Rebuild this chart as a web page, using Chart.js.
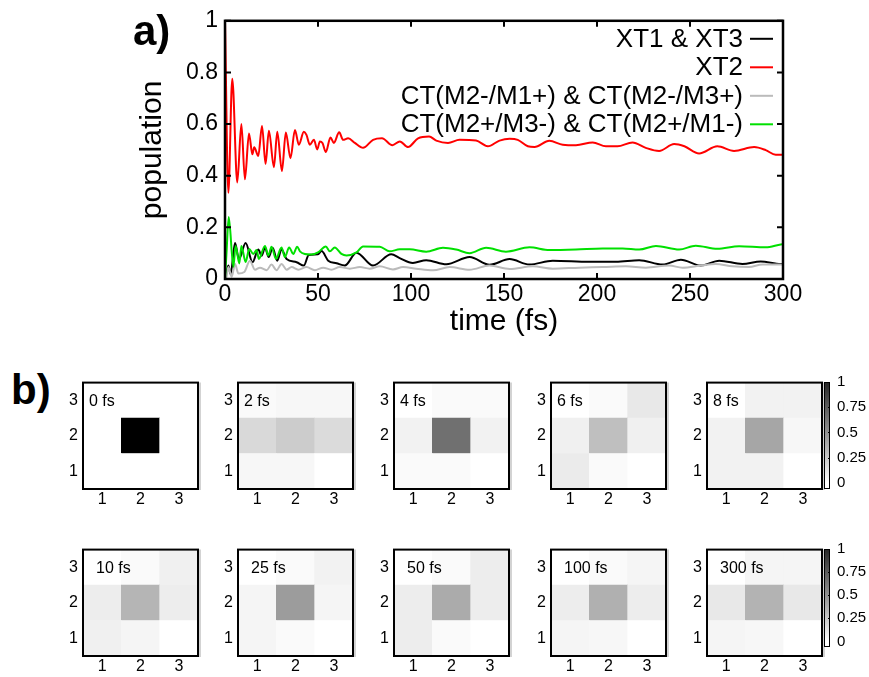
<!DOCTYPE html>
<html>
<head>
<meta charset="utf-8">
<script src="https://cdn.jsdelivr.net/npm/chart.js@4.4.1/dist/chart.umd.min.js"></script>
<style>
  body { margin: 0; background: #fff; }
  #page { position: relative; width: 869px; height: 677px; overflow: hidden; background: #fff; }
  #page canvas { position: absolute; }
  .tag { position: absolute; font-family: 'Liberation Sans', Arial, sans-serif; font-weight: bold; font-size: 42px; line-height: 1; }
</style>
</head>
<body>
<div id="page">
  <div class="tag" style="left:11px; top:369px;">b)</div>
</div>
<script>
// --- populations vs time (fs) ---
const tBlack = [0, 0.5, 1.8, 3, 5.4, 7.5, 11.1, 14.8, 17.9, 19.7, 21.5, 23.5, 25.6, 28.1, 30.4, 33.1, 38.5, 42.4, 45, 50,
  51.9, 55.5, 60, 64.4, 70.7, 79.6, 89.4, 93.9, 101, 108.2, 119, 131.5, 142.2, 153, 163.7, 176.2, 195.9, 210.2, 222.7,
  235.3, 245.1, 255.8, 265.7, 278.2, 288, 298.8, 300];
const vBlack = [0, 0.015, 0.052, 0.019, 0.139, 0.077, 0.139, 0.065, 0.114, 0.09, 0.121, 0.085, 0.121, 0.071, 0.114, 0.077,
  0.065, 0.052, 0.093, 0.096, 0.108, 0.071, 0.061, 0.052, 0.102, 0.052, 0.096, 0.081, 0.062, 0.073, 0.057, 0.085, 0.055,
  0.077, 0.056, 0.071, 0.067, 0.067, 0.073, 0.056, 0.075, 0.052, 0.071, 0.058, 0.068, 0.058, 0.058];

const tRed = [0, 1.8, 3.9, 6.6, 8.8, 10.7, 12.9, 14.7, 15.7, 17.9, 19.9, 21.8, 23.6, 26.3, 28.1, 30.6, 32.7, 35.2, 37.6,
  39.7, 42.4, 43.8, 45.6, 47.8, 49.6, 51, 52.4, 54.2, 56.7, 58.5, 61.4, 63.5, 66.2, 69.8, 74.2, 79.6, 84.4, 90, 94, 98.4,
  103.8, 109.7, 113.6, 119.9, 126.1, 135, 141.3, 147.6, 153, 157.4, 162.8, 166.4, 174.4, 181.6, 188.7, 197.7, 204.8, 211,
  219.1, 226.2, 233.4, 241.5, 247, 254.9, 264.7, 273.7, 284.5, 290.7, 296.1, 300];
const vRed = [1, 0.334, 0.776, 0.374, 0.6, 0.386, 0.564, 0.483, 0.51, 0.477, 0.593, 0.446, 0.574, 0.433, 0.57, 0.418,
  0.567, 0.468, 0.577, 0.52, 0.57, 0.558, 0.52, 0.539, 0.502, 0.533, 0.527, 0.492, 0.548, 0.527, 0.568, 0.539, 0.545,
  0.527, 0.508, 0.539, 0.545, 0.518, 0.533, 0.511, 0.545, 0.552, 0.536, 0.527, 0.539, 0.536, 0.514, 0.536, 0.543, 0.539,
  0.514, 0.511, 0.535, 0.52, 0.518, 0.529, 0.514, 0.514, 0.529, 0.508, 0.496, 0.523, 0.514, 0.486, 0.514, 0.496, 0.511,
  0.499, 0.481, 0.481];

const tGray = [0, 0.5, 1.8, 3.6, 5.4, 7.2, 10.4, 13.4, 16.1, 18.8, 22.4, 25, 27.7, 30.4, 33.1, 35.8, 39.4, 43.8, 48.3,
  52.8, 57.2, 61.7, 67.1, 72.5, 77.8, 83.2, 90.3, 95.7, 102.8, 111.8, 120.8, 131.5, 142.2, 153, 165.5, 176.2, 190.5, 203,
  215.5, 226.3, 238.8, 245.9, 255.8, 263.8, 272.8, 281.7, 288.9, 300];
const vGray = [0, 0, 0.046, 0.009, 0.058, 0.021, 0.027, 0.071, 0.036, 0.044, 0.034, 0.056, 0.034, 0.058, 0.036, 0.046,
  0.036, 0.046, 0.034, 0.044, 0.036, 0.046, 0.04, 0.046, 0.04, 0.049, 0.037, 0.046, 0.04, 0.034, 0.046, 0.036, 0.052,
  0.039, 0.049, 0.04, 0.044, 0.046, 0.049, 0.044, 0.052, 0.044, 0.052, 0.058, 0.049, 0.046, 0.056, 0.056];

const tGreen = [0, 0.8, 2, 4.5, 5.7, 7.7, 8.8, 11.1, 13, 15.2, 17, 18.2, 21.5, 23.3, 25, 27.4, 30.4, 32.2, 34.5, 36.7,
  38.8, 40.3, 42.9, 46.5, 50, 54.2, 56.4, 59, 62.6, 65.3, 70.7, 74.2, 83.2, 88.5, 94, 99.3, 108.2, 117.2, 124.3, 131.5,
  140.4, 151, 163.7, 174.4, 188.7, 203, 213.8, 222.7, 231.7, 244.2, 253.1, 264.7, 276.4, 290.7, 298.8, 300];
const vGreen = [0, 0.1, 0.24, 0.047, 0.128, 0.06, 0.128, 0.066, 0.116, 0.097, 0.112, 0.078, 0.128, 0.091, 0.125, 0.078,
  0.122, 0.085, 0.122, 0.097, 0.125, 0.107, 0.097, 0.095, 0.103, 0.126, 0.107, 0.122, 0.097, 0.091, 0.103, 0.126, 0.125,
  0.107, 0.115, 0.115, 0.106, 0.121, 0.114, 0.1, 0.121, 0.106, 0.123, 0.112, 0.114, 0.118, 0.118, 0.114, 0.128, 0.114,
  0.129, 0.117, 0.127, 0.123, 0.134, 0.135];

const seriesLabels = ['XT1 & XT3', 'XT2', 'CT(M2-/M1+) & CT(M2-/M3+)', 'CT(M2+/M3-) & CT(M2+/M1-)'];
const seriesColors = ['#000000', '#ff0000', '#bbbbbb', '#00e000'];

// --- density snapshots, rows listed top (3) to bottom (1), columns 1..3 ---
const gridLabels = ['1', '2', '3'];
const panelTimes = ['0 fs', '2 fs', '4 fs', '6 fs', '8 fs', '10 fs', '25 fs', '50 fs', '100 fs', '300 fs'];
const panelCells = [
  [[0, 0, 0], [0, 1, 0], [0, 0, 0]],
  [[0.02, 0.03, 0.03], [0.15, 0.2, 0.14], [0.03, 0.03, 0]],
  [[0, 0.02, 0.02], [0.05, 0.56, 0.05], [0.02, 0.02, 0]],
  [[0, 0.02, 0.09], [0.06, 0.25, 0.06], [0.08, 0.02, 0]],
  [[0, 0.05, 0.05], [0.05, 0.35, 0.03], [0.05, 0.05, 0]],
  [[0, 0.02, 0.06], [0.07, 0.29, 0.07], [0.06, 0.04, 0]],
  [[0, 0.02, 0.05], [0.04, 0.39, 0.04], [0.04, 0.02, 0]],
  [[0, 0.02, 0.07], [0.07, 0.33, 0.07], [0.07, 0.02, 0]],
  [[0, 0.02, 0.04], [0.07, 0.31, 0.07], [0.04, 0.03, 0]],
  [[0, 0.04, 0.04], [0.09, 0.3, 0.09], [0.04, 0.03, 0]]
];
const cbTicks = [0, 0.25, 0.5, 0.75, 1];

const FONT = "'Liberation Sans', Arial, Helvetica, sans-serif";
Chart.defaults.font.family = FONT;
Chart.defaults.color = '#000';
Chart.defaults.animation = false;

const page = document.getElementById('page');

function addCanvas(left, top, w, h) {
  const c = document.createElement('canvas');
  c.width = w;
  c.height = h;
  c.style.left = left + 'px';
  c.style.top = top + 'px';
  page.appendChild(c);
  return c.getContext('2d');
}

function grayOf(v) {
  const g = Math.round(255 * (1 - v));
  return `rgb(${g},${g},${g})`;
}

// 0, 0.2, ... 1 without trailing zeros
const plainNum = v => String(Number(v.toFixed(2)));

const noAxisLines = { grid: { display: false, drawTicks: false }, border: { display: false } };

// gnuplot-style frame with inward ticks on all four sides
const frameTicks = {
  id: 'frameTicks',
  afterDraw(chart) {
    const { ctx, chartArea: a, scales: { x, y } } = chart;
    ctx.save();
    ctx.strokeStyle = '#000';
    ctx.lineWidth = 2;
    ctx.beginPath();
    x.ticks.forEach(t => {
      const px = x.getPixelForValue(t.value);
      ctx.moveTo(px, a.bottom); ctx.lineTo(px, a.bottom - 6);
      ctx.moveTo(px, a.top); ctx.lineTo(px, a.top + 6);
    });
    y.ticks.forEach(t => {
      const py = y.getPixelForValue(t.value);
      ctx.moveTo(a.left, py); ctx.lineTo(a.left + 6, py);
      ctx.moveTo(a.right, py); ctx.lineTo(a.right - 6, py);
    });
    ctx.stroke();
    ctx.lineWidth = 2.5;
    ctx.strokeRect(a.left, a.top, a.right - a.left, a.bottom - a.top);
    ctx.restore();
  }
};

// key: right-aligned text with the line sample after it
const rightLegend = {
  id: 'rightLegend',
  afterDatasetsDraw(chart) {
    const { ctx, chartArea: a } = chart;
    ctx.save();
    ctx.font = `26px ${FONT}`;
    ctx.textAlign = 'right';
    ctx.textBaseline = 'middle';
    chart.data.datasets.forEach((ds, i) => {
      const yy = a.top + 18 + i * 28.5;
      ctx.fillStyle = '#000';
      ctx.fillText(ds.label, a.right - 40, yy + 1);
      ctx.strokeStyle = ds.borderColor;
      ctx.lineWidth = 2;
      ctx.beginPath();
      ctx.moveTo(a.right - 33, yy);
      ctx.lineTo(a.right - 10, yy);
      ctx.stroke();
    });
    ctx.restore();
  }
};

const partTag = {
  id: 'partTag',
  afterDraw(chart) {
    const ctx = chart.ctx;
    ctx.save();
    ctx.font = `bold 42px ${FONT}`;
    ctx.fillStyle = '#000';
    ctx.textBaseline = 'alphabetic';
    ctx.fillText('a)', 133, 45);
    ctx.restore();
  }
};

// ---------- a) population curves ----------
const curveT = [tBlack, tRed, tGray, tGreen];
const curveV = [vBlack, vRed, vGray, vGreen];

new Chart(addCanvas(0, 0, 869, 345), {
  type: 'line',
  data: {
    datasets: seriesLabels.map((label, i) => ({
      label,
      data: curveT[i].map((t, k) => ({ x: t, y: curveV[i][k] })),
      borderColor: seriesColors[i],
      borderWidth: 2,
      pointRadius: 0,
      cubicInterpolationMode: 'monotone',
      order: seriesLabels.length - i
    }))
  },
  options: {
    responsive: false,
    animation: false,
    layout: { padding: { left: 0, top: 11, right: 86, bottom: 0 }, autoPadding: false },
    plugins: { legend: { display: false }, tooltip: { enabled: false } },
    scales: {
      x: {
        type: 'linear', min: 0, max: 300,
        ticks: { stepSize: 50, font: { size: 23 }, padding: 2, maxRotation: 0 },
        ...noAxisLines,
        title: { display: true, text: 'time (fs)', font: { size: 30 }, padding: { top: 0, bottom: 5 } },
        afterFit: s => { s.height = 66; }
      },
      y: {
        min: 0, max: 1,
        ticks: { stepSize: 0.2, font: { size: 23 }, padding: 7, callback: plainNum },
        ...noAxisLines,
        title: { display: true, text: 'population', font: { size: 30 }, padding: { top: 135, bottom: 0 } },
        afterFit: s => { s.width = 225; }
      }
    }
  },
  plugins: [frameTicks, rightLegend, partTag]
});

// ---------- b) 3x3 snapshots ----------
const PANEL_LEFT = [83, 238, 394, 551, 707];
const PANEL_TOP = [374, 541];
const PANEL_W = 115, PANEL_H = 115;
const LABEL_DX = [6, 13];
const smallTickFont = { family: FONT, size: 16 };

function panelFrame(dx) {
  return {
    id: 'panelFrame',
    afterDraw(chart) {
      const { ctx, chartArea: a } = chart;
      ctx.save();
      ctx.strokeStyle = '#c4c4c4';
      ctx.lineWidth = 1.5;
      ctx.beginPath();
      ctx.moveTo(a.right + 2, a.top);
      ctx.lineTo(a.right + 2, a.bottom + 1);
      ctx.stroke();
      ctx.strokeStyle = '#000';
      ctx.lineWidth = 2;
      ctx.strokeRect(a.left, a.top, a.right - a.left, a.bottom - a.top);
      ctx.font = `16px ${FONT}`;
      ctx.fillStyle = '#000';
      ctx.textBaseline = 'middle';
      ctx.fillText(chart.options.plugins.panelFrame.text, a.left + dx, a.top + 19);
      ctx.restore();
    }
  };
}

panelTimes.forEach((label, k) => {
  const row = Math.floor(k / 5), col = k % 5;
  const left = PANEL_LEFT[col], top = PANEL_TOP[row];
  const cells = panelCells[k];
  const ctx = addCanvas(left - 32, top - 6, 32 + PANEL_W + 8, 6 + PANEL_H + 26);
  new Chart(ctx, {
    type: 'bar',
    data: {
      labels: gridLabels,
      // stacked from the bottom row (1) up to the top row (3)
      datasets: [cells[2], cells[1], cells[0]].map(r => ({
        data: r.map(() => 1),
        backgroundColor: r.map(grayOf),
        borderWidth: 0,
        barPercentage: 1,
        categoryPercentage: 1
      }))
    },
    options: {
      responsive: false,
      animation: false,
      layout: { padding: { left: 0, top: 6, right: 8, bottom: 0 }, autoPadding: false },
      plugins: { legend: { display: false }, tooltip: { enabled: false }, panelFrame: { text: label } },
      scales: {
        x: {
          stacked: true,
          ticks: { font: smallTickFont, padding: 1 },
          ...noAxisLines,
          afterFit: s => { s.height = 26; }
        },
        y: {
          stacked: true, min: 0, max: 3,
          afterBuildTicks: s => { s.ticks = gridLabels.map((l, i) => ({ value: i + 0.5 })); },
          ticks: { font: smallTickFont, padding: 5, callback: (v, i) => gridLabels[i] },
          ...noAxisLines,
          afterFit: s => { s.width = 32; }
        }
      }
    },
    plugins: [panelFrame(LABEL_DX[row])]
  });
});

// ---------- colour bars ----------
const CB_TOP = [374, 541];
const CB_BOTTOM = [497, 655];
const cbMin = -0.06;

const cbFrame = {
  id: 'cbFrame',
  afterDraw(chart) {
    const { ctx, chartArea: a, scales: { y } } = chart;
    ctx.save();
    ctx.strokeStyle = '#000';
    ctx.lineWidth = 1;
    ctx.strokeRect(a.left + 0.5, a.top + 0.5, a.right - a.left - 1, a.bottom - a.top - 1);
    ctx.beginPath();
    cbTicks.slice(1, -1).forEach(v => {
      const py = Math.round(y.getPixelForValue(v)) + 0.5;
      ctx.moveTo(a.right - 2, py);
      ctx.lineTo(a.right, py);
    });
    ctx.stroke();
    ctx.restore();
  }
};

CB_TOP.forEach((top, row) => {
  const bottom = CB_BOTTOM[row];
  const ctx = addCanvas(820, top - 8, 49, bottom - top + 16);
  new Chart(ctx, {
    type: 'bar',
    data: {
      labels: [''],
      datasets: [{
        data: [[cbMin, 1]],
        borderWidth: 0,
        barPercentage: 1,
        categoryPercentage: 1,
        backgroundColor: c => {
          const chart = c.chart;
          if (!chart.chartArea) return '#fff';
          const y = chart.scales.y;
          const g = chart.ctx.createLinearGradient(0, y.getPixelForValue(0), 0, y.getPixelForValue(1));
          g.addColorStop(0, grayOf(0));
          g.addColorStop(1, grayOf(0.85));
          return g;
        }
      }]
    },
    options: {
      responsive: false,
      animation: false,
      layout: { padding: { left: 4, top: 8, right: 0, bottom: 8 }, autoPadding: false },
      plugins: { legend: { display: false }, tooltip: { enabled: false } },
      scales: {
        x: { display: false },
        y: {
          position: 'right', min: cbMin, max: 1,
          afterBuildTicks: s => { s.ticks = cbTicks.map(v => ({ value: v })); },
          ticks: { font: { family: FONT, size: 15 }, padding: 7, callback: v => String(v) },
          ...noAxisLines,
          afterFit: s => { s.width = 39; }
        }
      }
    },
    plugins: [cbFrame]
  });
});
</script>
</body>
</html>
